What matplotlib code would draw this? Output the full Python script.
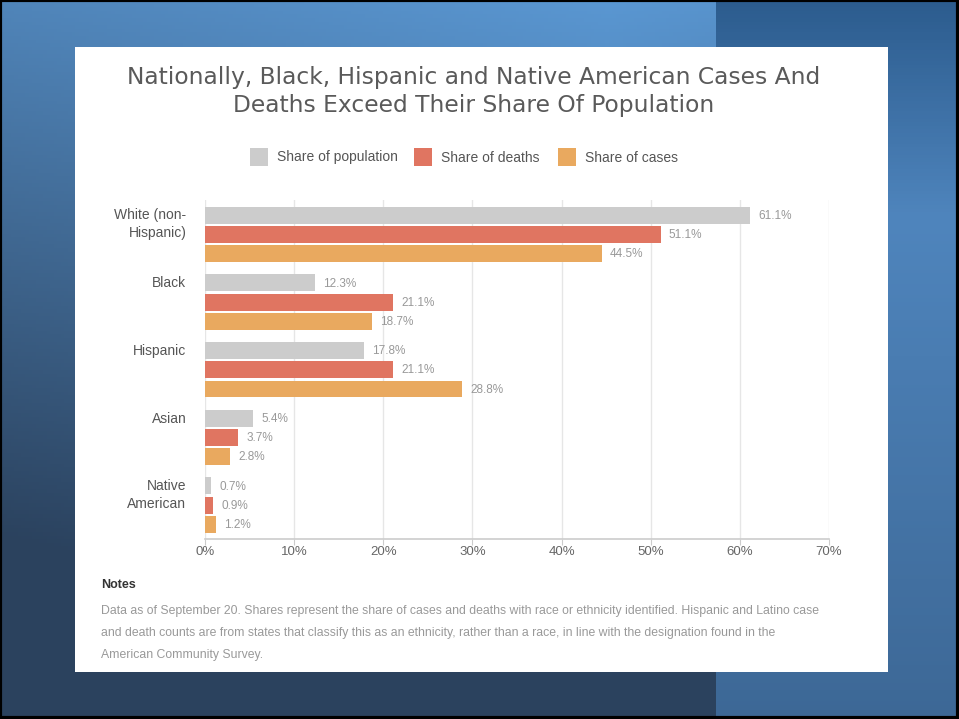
import numpy as np
import matplotlib
matplotlib.use("Agg")
import matplotlib.pyplot as plt
from matplotlib.patches import Rectangle

plt.rcParams['font.family'] = ['Liberation Sans', 'DejaVu Sans']

# data (percent)
categories = ["White (non-\nHispanic)", "Black", "Hispanic", "Asian", "Native\nAmerican"]
population = [61.1, 12.3, 17.8, 5.4, 0.7]
deaths = [51.1, 21.1, 21.1, 3.7, 0.9]
cases = [44.5, 18.7, 28.8, 2.8, 1.2]
series_names = ["Share of population", "Share of deaths", "Share of cases"]
series_colors = ["#cccccc", "#e07561", "#e9a95f"]
xticks = [0, 10, 20, 30, 40, 50, 60, 70]

W, H = 959, 719
fig = plt.figure(figsize=(W / 100, H / 100), dpi=100)

# blue slide background
bg = fig.add_axes([0, 0, 1, 1])
bg.axis("off")
yy = np.linspace(0, 1, 200)[:, None]
xx = np.linspace(0, 1, 200)[None, :]
left_top = np.array([0x5a, 0x97, 0xd2]) / 255
left_bot = np.array([0x2b, 0x42, 0x5e]) / 255
t = np.clip(yy * 1.05 + np.abs(xx - 0.85) * 0.25, 0, 1)[..., None]
img = left_top * (1 - t) + left_bot * t
bg.imshow(img, extent=[0, 716, H, 0], aspect="auto", zorder=0)
r_top = np.array([0x2c, 0x5c, 0x8e]) / 255
r_mid = np.array([0x4f, 0x85, 0xbd]) / 255
r_bot = np.array([0x3d, 0x68, 0x96]) / 255
yv = np.linspace(0, 1, 200)
rimg = np.zeros((200, 2, 3))
for i, v in enumerate(yv):
    if v < 0.3:
        c = r_top + (r_mid - r_top) * (v / 0.3)
    else:
        c = r_mid + (r_bot - r_mid) * ((v - 0.3) / 0.7)
    rimg[i, :, :] = c
bg.imshow(rimg, extent=[716, W, H, 0], aspect="auto", zorder=0)
bg.add_patch(Rectangle((0, 0), W - 1, H - 1, fill=False, ec="black", lw=3, zorder=3))
bg.add_patch(Rectangle((75, 47), 813, 625, fc="white", ec="none", zorder=2))
bg.set_xlim(0, W)
bg.set_ylim(H, 0)

# title
fig.text(474 / W, 1 - 91.5 / H,
         "Nationally, Black, Hispanic and Native American Cases And\nDeaths Exceed Their Share Of Population",
         ha="center", va="center", fontsize=16.8, color="#5a5a5a", linespacing=1.33,
         family=["DejaVu Sans"])

# legend
leg_x = [250, 414, 558]
for x0, name, col in zip(leg_x, series_names, series_colors):
    bg.add_patch(Rectangle((x0, 148), 18, 18, fc=col, ec="none", zorder=4))
    bg.text(x0 + 27, 157.5, name, ha="left", va="center", fontsize=10,
            color="#555555", zorder=4)

# chart
ax = fig.add_axes([205 / W, 1 - 539 / H, 624 / W, 338.5 / H])
ax.set_zorder(5)
ax.patch.set_alpha(0)
y = np.arange(len(categories))
h = 0.25
off = 0.284
for k, (vals, col) in enumerate(zip([population, deaths, cases], series_colors)):
    pos = y + (k - 1) * off
    ax.barh(pos, vals, height=h, color=col, zorder=3)
    for p, v in zip(pos, vals):
        ax.annotate(f"{v:.1f}%", xy=(v, p), xytext=(6, -0.5), textcoords="offset points",
                    ha="left", va="center", fontsize=8.5, color="#999999", zorder=4)

# category labels, first line level with the first bar of each group
for yc, lab in zip(y - off, categories):
    ax.annotate(lab, xy=(0, yc), xycoords=("axes fraction", "data"),
                xytext=(-13.5, 4.8), textcoords="offset points", ha="right", va="top",
                fontsize=10, color="#555555", linespacing=1.3, annotation_clip=False)

ax.set_xlim(0, 70)
ax.set_ylim(len(categories) - 0.5, -0.5)
ax.set_xticks(xticks)
ax.set_xticklabels([f"{v}%" for v in xticks], fontsize=9.5, color="#666666")
ax.set_yticks([])
ax.tick_params(axis="x", length=4, color="#cccccc", pad=1)
ax.grid(axis="x", color="#e6e6e6", lw=1, zorder=0)
for s in ["top", "right", "left"]:
    ax.spines[s].set_visible(False)
ax.spines["bottom"].set_color("#cccccc")
ax.spines["bottom"].set_linewidth(1.2)

# notes
bg.text(101, 585, "Notes", ha="left", va="center", fontsize=9, fontweight="bold",
        color="#333333", zorder=4)
notes = ("Data as of September 20. Shares represent the share of cases and deaths with race or ethnicity identified. Hispanic and Latino case\n"
         "and death counts are from states that classify this as an ethnicity, rather than a race, in line with the designation found in the\n"
         "American Community Survey.")
bg.text(101, 605, notes, ha="left", va="top", fontsize=8.85, color="#999999",
        linespacing=2.12, zorder=4)

fig.savefig("out.png", dpi=100)
